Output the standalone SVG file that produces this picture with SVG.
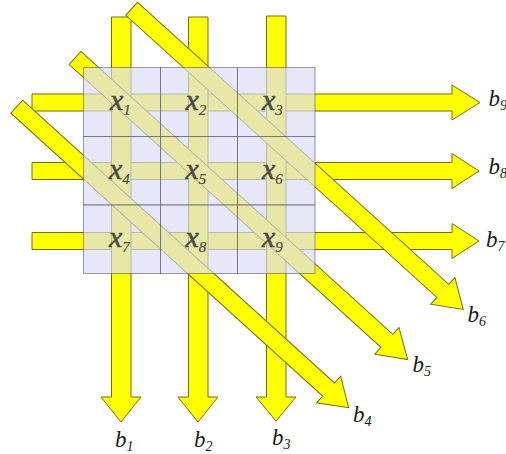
<svg xmlns="http://www.w3.org/2000/svg" width="506" height="454" viewBox="0 0 506 454">
<style>
.bar{fill:#ffff00;stroke:#6e6e12;stroke-width:1;stroke-linejoin:miter}
.cell{fill:#dcdcf6;fill-opacity:0.68;stroke:#4a4a55;stroke-opacity:0.55;stroke-width:1}
.xl{font-style:italic;font-size:30px;fill:#4a4a40;stroke:#4a4a40;stroke-width:0.5}
.xs{font-size:15px;stroke-width:0.2}
.bl{font-style:italic;font-size:23px;fill:#1a1a1a}
.bs{font-size:14px}
</style>
<rect width="506" height="454" fill="#ffffff"/>
<g id="connectors">
  <g id="b9-ray"><polygon class="bar" points="32,94 452,94 452,85 480,102.5 452,120 452,111 32,111"/></g>
  <g id="b8-ray"><polygon class="bar" points="32,162.5 452,162.5 452,153.5 479,171 452,188.5 452,179.5 32,179.5"/></g>
  <g id="b7-ray"><polygon class="bar" points="32,232.5 452,232.5 452,223.5 479,241 452,258.5 452,249.5 32,249.5"/></g>
  <g id="b1-ray"><polygon class="bar" points="111.5,17 131,17 131,397 141,397 121,422 101,397 111.5,397"/></g>
  <g id="b2-ray"><polygon class="bar" points="188.5,17 208,17 208,397 218,397 198,422 178,397 188.5,397"/></g>
  <g id="b3-ray"><polygon class="bar" points="266.5,16 286,16 286,397 296,397 276,421 256,397 266.5,397"/></g>
  <g id="b4-ray" transform="translate(16.7,106.7) rotate(42.2)"><polygon class="bar" points="0,-8.8 421,-8.8 421,-18 448,0 421,18 421,8.8 0,8.8"/></g>
  <g id="b5-ray" transform="translate(75,58) rotate(42.2)"><polygon class="bar" points="0,-8.8 421,-8.8 421,-18 449,0 421,18 421,8.8 0,8.8"/></g>
  <g id="b6-ray" transform="translate(131.7,8.8) rotate(42.2)"><polygon class="bar" points="0,-8.8 420,-8.8 420,-18 447.5,0 420,18 420,8.8 0,8.8"/></g>
</g>
<g font-family="'Liberation Serif', 'DejaVu Serif', 'Times New Roman', serif">
<g id="x1"><rect class="cell" x="83.5" y="67.5" width="77" height="69"/><text class="xl" x="110" y="110">x<tspan class="xs" dy="5">1</tspan></text></g>
<g id="x2"><rect class="cell" x="160.5" y="67.5" width="77" height="69"/><text class="xl" x="185.5" y="110">x<tspan class="xs" dy="5">2</tspan></text></g>
<g id="x3"><rect class="cell" x="237.5" y="67.5" width="77.5" height="69"/><text class="xl" x="262" y="110">x<tspan class="xs" dy="5">3</tspan></text></g>
<g id="x4"><rect class="cell" x="83.5" y="136.5" width="77" height="68.5"/><text class="xl" x="109" y="178.5">x<tspan class="xs" dy="5">4</tspan></text></g>
<g id="x5"><rect class="cell" x="160.5" y="136.5" width="77" height="68.5"/><text class="xl" x="185.5" y="178.5">x<tspan class="xs" dy="5">5</tspan></text></g>
<g id="x6"><rect class="cell" x="237.5" y="136.5" width="77.5" height="68.5"/><text class="xl" x="262" y="178.5">x<tspan class="xs" dy="5">6</tspan></text></g>
<g id="x7"><rect class="cell" x="83.5" y="205" width="77" height="68.5"/><text class="xl" x="109" y="247">x<tspan class="xs" dy="5">7</tspan></text></g>
<g id="x8"><rect class="cell" x="160.5" y="205" width="77" height="68.5"/><text class="xl" x="185.5" y="247">x<tspan class="xs" dy="5">8</tspan></text></g>
<g id="x9"><rect class="cell" x="237.5" y="205" width="77.5" height="68.5"/><text class="xl" x="262" y="247">x<tspan class="xs" dy="5">9</tspan></text></g>
<g id="labels">
  <text class="bl" x="115" y="447">b<tspan class="bs" dy="4">1</tspan></text>
  <text class="bl" x="194" y="447">b<tspan class="bs" dy="4">2</tspan></text>
  <text class="bl" x="272" y="445">b<tspan class="bs" dy="4">3</tspan></text>
  <text class="bl" x="353" y="422">b<tspan class="bs" dy="4">4</tspan></text>
  <text class="bl" x="412.5" y="372">b<tspan class="bs" dy="4">5</tspan></text>
  <text class="bl" x="467.5" y="322">b<tspan class="bs" dy="4">6</tspan></text>
  <text class="bl" x="486" y="247">b<tspan class="bs" dy="4">7</tspan></text>
  <text class="bl" x="488.5" y="174">b<tspan class="bs" dy="4">8</tspan></text>
  <text class="bl" x="488.5" y="106">b<tspan class="bs" dy="4">9</tspan></text>
</g>
</g>
</svg>
